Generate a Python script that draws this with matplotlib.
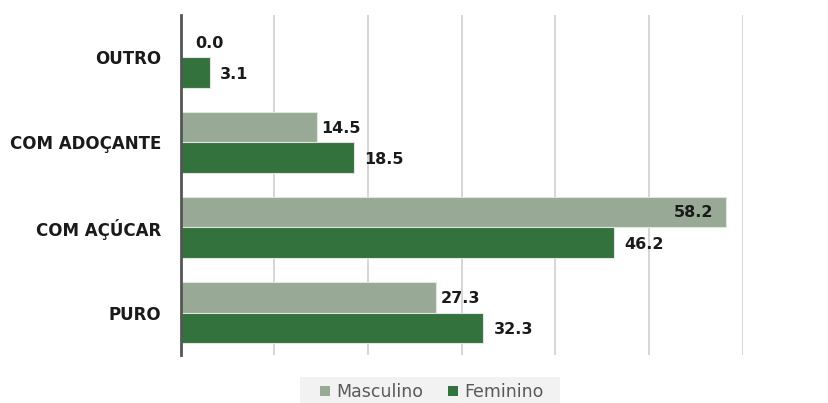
import numpy as np
import matplotlib.pyplot as plt
from matplotlib.patches import Patch, Rectangle

categorias = ["PURO", "COM AÇÚCAR", "COM ADOÇANTE", "OUTRO"]
masculino = [27.3, 58.2, 14.5, 0.0]
feminino = [32.3, 46.2, 18.5, 3.1]

cor_masc = "#98AA96"
cor_fem = "#33713D"

fig, ax = plt.subplots(figsize=(8.29, 4.03), dpi=100)
fig.subplots_adjust(left=0.218, right=0.896, top=0.963, bottom=0.119)

y = np.arange(len(categorias))
h = 0.36
ax.barh(y + h / 2, masculino, height=h, color=cor_masc, edgecolor="#dfe6de", linewidth=0.8)
ax.barh(y - h / 2, feminino, height=h, color=cor_fem, edgecolor="#dfe6de", linewidth=0.8)

for i, (m, f) in enumerate(zip(masculino, feminino)):
    if m > 50:
        ax.text(m - 1.3, y[i] + h / 2, f"{m:.1f}", ha="right", va="center",
                fontsize=11.5, fontweight="bold", color="#1a1a1a")
    else:
        dx = 1.5 if m == 0 else 0.5
        ax.text(m + dx, y[i] + h / 2 - 0.02, f"{m:.1f}", ha="left", va="center",
                fontsize=11.5, fontweight="bold", color="#1a1a1a")
    ax.text(f + 1.1, y[i] - h / 2 - 0.02, f"{f:.1f}", ha="left", va="center",
            fontsize=11.5, fontweight="bold", color="#1a1a1a")

ax.set_xlim(0, 60)
ax.set_ylim(-0.5, 3.5)
ax.set_xticks(np.arange(10, 61, 10))
ax.set_xticklabels([])
ax.set_yticks(y)
ax.set_yticklabels(categorias, fontsize=12, fontweight="bold", color="#1a1a1a")
ax.tick_params(axis="both", length=0)
ax.tick_params(axis="y", pad=14)
ax.xaxis.grid(True, color="#d0d0d0", linewidth=1.2)
ax.set_axisbelow(True)
for s in ["top", "right", "bottom"]:
    ax.spines[s].set_visible(False)
ax.spines["left"].set_color("#555555")
ax.spines["left"].set_linewidth(2)

# fundo da legenda
fig.patches.append(Rectangle((300 / 829, 0), 260 / 829, 26 / 403, transform=fig.transFigure,
                             facecolor="#f2f2f2", edgecolor="none", zorder=0))

legend_elements = [
    Patch(facecolor=cor_masc, label="Masculino"),
    Patch(facecolor=cor_fem, label="Feminino"),
]
leg = fig.legend(handles=legend_elements, loc="center", bbox_to_anchor=(432 / 829, 1 - 392 / 403),
                 ncol=2, frameon=False, fontsize=12.5, handlelength=0.55, handleheight=0.55,
                 handletextpad=0.4, columnspacing=1.4)
for t in leg.get_texts():
    t.set_color("#595959")

fig.savefig("out.png", dpi=100)
